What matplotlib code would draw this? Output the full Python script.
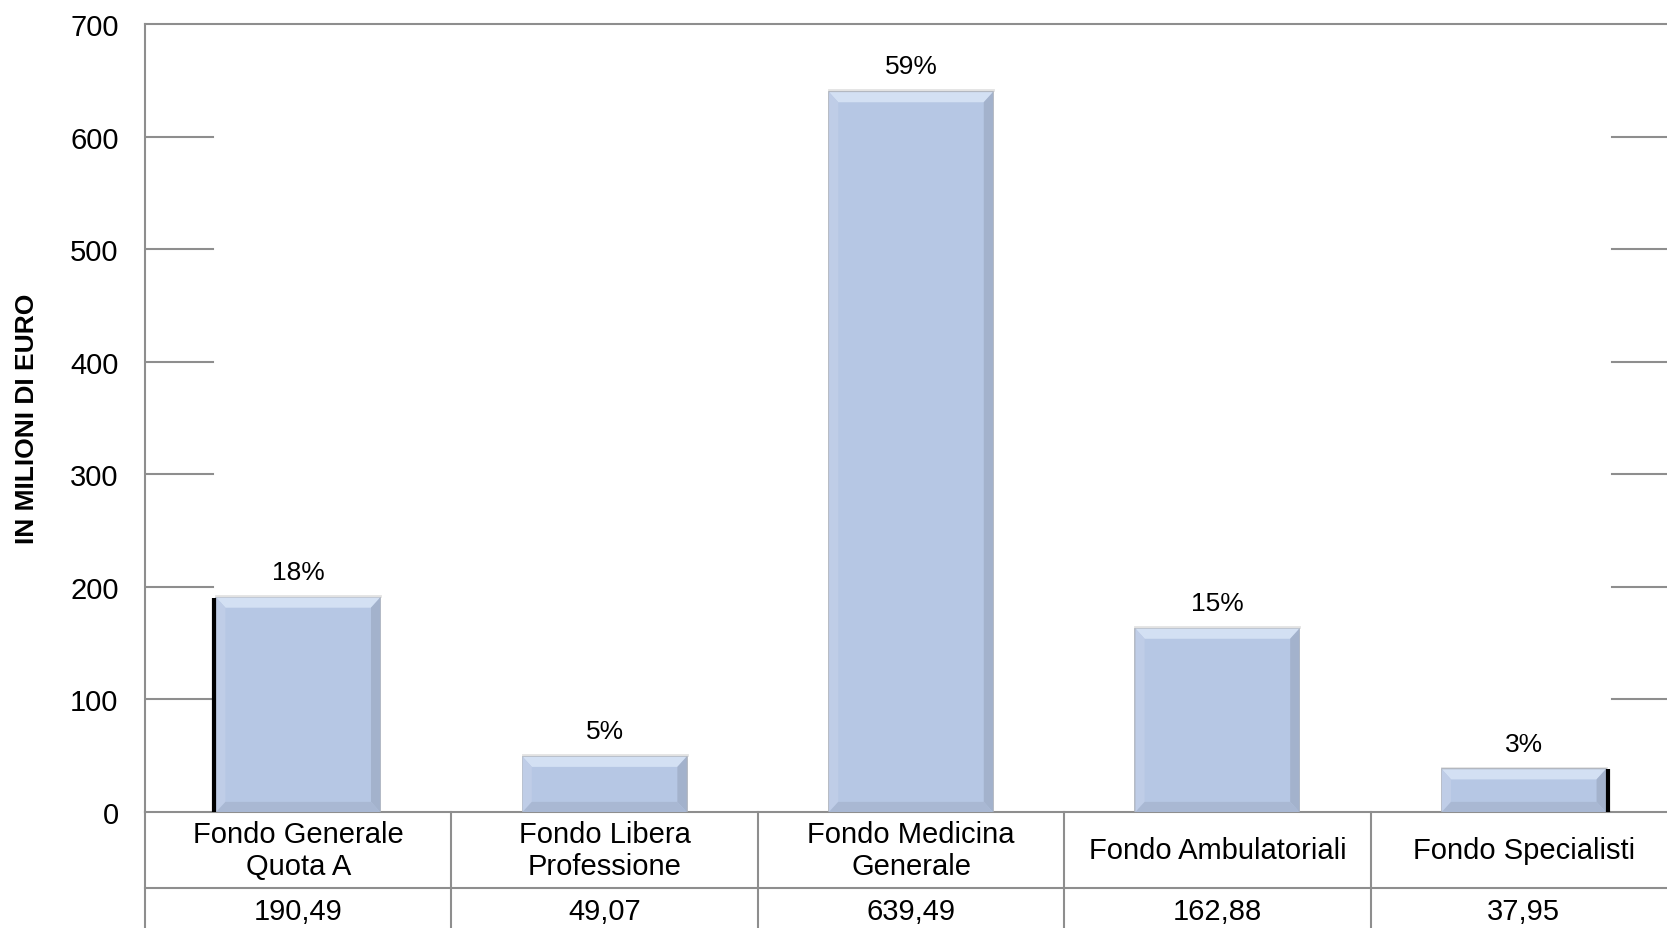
import matplotlib
matplotlib.use("Agg")
import matplotlib.pyplot as plt
from matplotlib.patches import Polygon
import matplotlib.transforms as mtransforms

plt.rcParams['font.family'] = ['Liberation Sans', 'DejaVu Sans']

# data
categories = ["Fondo Generale\nQuota A", "Fondo Libera\nProfessione", "Fondo Medicina\nGenerale",
              "Fondo Ambulatoriali", "Fondo Specialisti"]
values = [190.49, 49.07, 639.49, 162.88, 37.95]
value_labels = ["190,49", "49,07", "639,49", "162,88", "37,95"]
pct_labels = ["18%", "5%", "59%", "15%", "3%"]
yticks = [0, 100, 200, 300, 400, 500, 600, 700]

W, H = 1667, 929
fig = plt.figure(figsize=(W / 100, H / 100), dpi=100)
# axes runs a bit past the right edge of the figure, like the original crop
ax = fig.add_axes([145 / W, 1 - 813 / H, (1677 - 145) / W, (813 - 25) / H])

n = len(values)
bw = 0.535
xs = list(range(n))
ax.set_xlim(-0.5, n - 0.5)
ax.set_ylim(0, 700)

gray = '#8E8E8E'
for s in ['left', 'top', 'bottom']:
    ax.spines[s].set_color(gray)
    ax.spines[s].set_linewidth(1.5)
ax.spines['right'].set_visible(False)

# gridlines only outside the bar block
left_edge = xs[0] - bw / 2
right_edge = xs[-1] + bw / 2
for t in yticks[1:-1]:
    ax.plot([-0.5, left_edge - 0.01], [t, t], color=gray, lw=1.5, zorder=1)
    ax.plot([right_edge + 0.02, n - 0.5], [t, t], color=gray, lw=1.5, zorder=1)

face = '#B6C7E4'
bars = ax.bar(xs, values, width=bw, color=face, edgecolor='#A9AFBA', linewidth=1.2, zorder=3)

# soft bevel around each bar
bx = 0.03    # bevel in x data units
by = 9.0     # bevel in y data units
for x, v in zip(xs, values):
    l, r = x - bw / 2, x + bw / 2
    b2 = min(by, v / 3)
    ax.add_patch(Polygon([[l, v], [r, v], [r - bx, v - b2], [l + bx, v - b2]],
                         closed=True, color='#D3E0F3', lw=0, zorder=4))
    ax.add_patch(Polygon([[r, v], [r, 0], [r - bx, b2], [r - bx, v - b2]],
                         closed=True, color='#A3B2CC', lw=0, zorder=4))
    ax.add_patch(Polygon([[l, v], [l, 0], [l + bx, b2], [l + bx, v - b2]],
                         closed=True, color='#BFCDE7', lw=0, zorder=4))
    ax.add_patch(Polygon([[l, 0], [r, 0], [r - bx, b2], [l + bx, b2]],
                         closed=True, color='#A9B8D3', lw=0, zorder=4))
    ax.plot([l, r], [v + 1.5, v + 1.5], color='#E2E2E2', lw=2, zorder=2)

# dark edges at the outer sides of the block
ax.plot([left_edge - 0.006, left_edge - 0.006], [0, values[0]], color='black', lw=3, zorder=5,
        solid_capstyle='butt')
ax.plot([right_edge + 0.008, right_edge + 0.008], [0, values[-1]], color='black', lw=3, zorder=5,
        solid_capstyle='butt')

for x, v, p in zip(xs, values, pct_labels):
    ax.annotate(p, (x, v), xytext=(0, 18.5), textcoords='offset points',
                ha='center', va='center', fontsize=19)

ax.set_xticks([])
ax.set_yticks(yticks)
ax.set_yticklabels([str(t) for t in yticks], fontsize=21)
ax.tick_params(axis='y', length=0, pad=19)
ax.set_ylabel('IN MILIONI DI EURO', fontsize=19, fontweight='bold')
ax.yaxis.set_label_coords(-106 / (1677 - 145), 0.5)

# data table below the axis
trans = mtransforms.blended_transform_factory(ax.transData, ax.transAxes)
ph = 813 - 25
row1 = -(889 - 813) / ph
bottom = -0.2
for i in range(n + 1):
    ax.plot([i - 0.5, i - 0.5], [0, bottom], color=gray, lw=1.5, transform=trans, clip_on=False)
ax.plot([-0.5, n - 0.5], [row1, row1], color=gray, lw=1.5, transform=trans, clip_on=False)
for x, c, vl in zip(xs, categories, value_labels):
    ax.text(x, row1 / 2, c, transform=trans, ha='center', va='center', fontsize=21,
            linespacing=1.2)
    ax.text(x, -(912 - 813) / ph, vl, transform=trans, ha='center', va='center', fontsize=21)

fig.savefig('out.png', dpi=100)
